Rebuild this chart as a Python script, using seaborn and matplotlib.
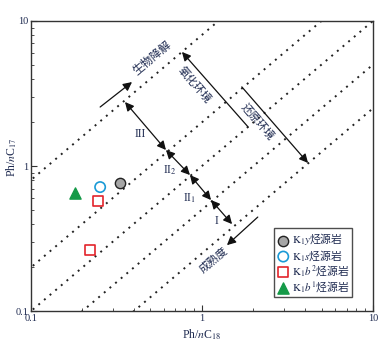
import matplotlib
matplotlib.use('Agg')
import numpy as np
import pandas as pd
import seaborn as sns
import matplotlib.pyplot as plt
from matplotlib.ticker import FuncFormatter, NullFormatter
from matplotlib.font_manager import FontProperties

# ---------------- data ----------------
ratio_lines = [8.0, 2.0, 1.0, 0.5, 0.25]          # Ph/nC17 = c * Ph/nC18 iso-lines

groups = ['K1y', 'K1s', 'K1b2', 'K1b1']
legend_labels = [r'$\mathrm{K}_1\mathit{y}$烃源岩', r'$\mathrm{K}_1\mathit{s}$烃源岩',
                 r'$\mathrm{K}_1\mathit{b}^2$烃源岩', r'$\mathrm{K}_1\mathit{b}^1$烃源岩']
ph_nc18 = {'K1y': [0.331], 'K1s': [0.254], 'K1b2': [0.246, 0.221], 'K1b1': [0.181]}
ph_nc17 = {'K1y': [0.763], 'K1s': [0.716], 'K1b2': [0.574, 0.264], 'K1b1': [0.652]}

# maturity zone boundary arrow (points where it crosses the iso-lines)
zone_x = [0.355, 0.616, 0.851, 1.13, 1.50]
zone_y = [2.76, 1.29, 0.867, 0.583, 0.398]
zone_labels = ['III', r'II$_2$', r'II$_1$', 'I']
zone_label_x = [0.434, 0.65, 0.85, 1.21]
zone_label_y = [1.66, 0.94, 0.60, 0.418]

# ---------------- style ----------------
sns.set_style('ticks')
plt.rcParams['font.family'] = ['Liberation Serif', 'Noto Sans CJK SC', 'DejaVu Sans']
plt.rcParams['mathtext.fontset'] = 'stix'
txt_color = '#1e2a50'

fig, ax = plt.subplots(figsize=(3.91, 3.54), dpi=100)
fig.subplots_adjust(left=0.079, right=0.954, bottom=0.121, top=0.941)
ax.set_xscale('log')
ax.set_yscale('log')

# iso-lines
for c in ratio_lines:
    df = pd.DataFrame({'x': [0.01, 100.0], 'y': [0.01 * c, 100.0 * c]})
    sns.lineplot(data=df, x='x', y='y', ax=ax, color='#222222',
                 linestyle=(0, (1, 2.8)), linewidth=1.4, legend=False)

# scatter points
styles = {
    'K1y': dict(marker='o', s=55, facecolor='#a6a6a6', edgecolor='#222222', linewidth=1.0),
    'K1s': dict(marker='o', s=55, facecolor='none', edgecolor='#1a9ad6', linewidth=1.2),
    'K1b2': dict(marker='s', s=55, facecolor='none', edgecolor='#e3242b', linewidth=1.2),
    'K1b1': dict(marker='^', s=65, facecolor='#159a48', edgecolor='#159a48', linewidth=1.0),
}
for g, lab in zip(groups, legend_labels):
    d = pd.DataFrame({'x': ph_nc18[g], 'y': ph_nc17[g]})
    sns.scatterplot(data=d, x='x', y='y', ax=ax, label=lab, zorder=5, **styles[g])

ax.set_xlim(0.1, 10)
ax.set_ylim(0.1, 10)

# arrows
def arrow(tail, head, style='-|>'):
    ax.annotate('', xy=head, xytext=tail,
                arrowprops=dict(arrowstyle=style, color='#111111', lw=0.9,
                                shrinkA=0, shrinkB=0, mutation_scale=13))

arrow((0.254, 2.55), (0.39, 3.79))          # 生物降解
arrow((1.86, 1.86), (0.764, 6.11))          # 氧化环境
arrow((1.71, 3.51), (4.17, 1.05))           # 还原环境
arrow((2.12, 0.445), (1.40, 0.285))         # 成熟度
for i in range(len(zone_x) - 1):
    arrow((zone_x[i], zone_y[i]), (zone_x[i + 1], zone_y[i + 1]), '<|-|>')

cjk = ['Noto Sans CJK SC', 'DejaVu Sans']
ax.text(0.51, 5.56, '生物降解', rotation=40, ha='center', va='center',
        fontsize=8.3, family=cjk, color=txt_color)
ax.text(0.91, 3.62, '氧化环境', rotation=-49, ha='center', va='center',
        fontsize=8, family=cjk, color=txt_color)
ax.text(2.12, 2.01, '还原环境', rotation=-49, ha='center', va='center',
        fontsize=8, family=cjk, color=txt_color)
ax.text(1.17, 0.225, '成熟度', rotation=40, ha='center', va='center',
        fontsize=8, family=cjk, color=txt_color)
for lx, ly, t in zip(zone_label_x, zone_label_y, zone_labels):
    ax.text(lx, ly, t, ha='center', va='center', fontsize=8.5, color=txt_color)

# axes formatting
fmt = FuncFormatter(lambda v, p: f'{v:g}')
for axis in (ax.xaxis, ax.yaxis):
    axis.set_major_formatter(fmt)
    axis.set_minor_formatter(NullFormatter())
ax.tick_params(which='both', direction='in', top=False, right=False,
               labelsize=7.5, labelcolor=txt_color, color='#333333', pad=2)
ax.tick_params(which='major', length=4, width=0.8)
ax.tick_params(which='minor', length=2.5, width=0.6)
for s in ax.spines.values():
    s.set_color('#333333')
    s.set_linewidth(1.0)

ax.set_xlabel(r'Ph/$n$C$_{18}$', fontsize=8.5, color=txt_color)
ax.set_ylabel(r'Ph/$n$C$_{17}$', fontsize=8.5, color=txt_color)
ax.xaxis.set_label_coords(0.5, -0.055)
ax.yaxis.set_label_coords(-0.036, 0.53)

leg = ax.legend(loc='lower right', bbox_to_anchor=(0.94, 0.048),
                prop=FontProperties(family='Noto Sans CJK SC', size=7.8),
                frameon=True, fancybox=False, edgecolor='#222222',
                handletextpad=0.2, borderpad=0.3, labelspacing=0.05,
                handlelength=1.2, borderaxespad=0.0)
leg.get_frame().set_linewidth(1.0)
for t in leg.get_texts():
    t.set_color(txt_color)

fig.savefig('out.png', dpi=100)
